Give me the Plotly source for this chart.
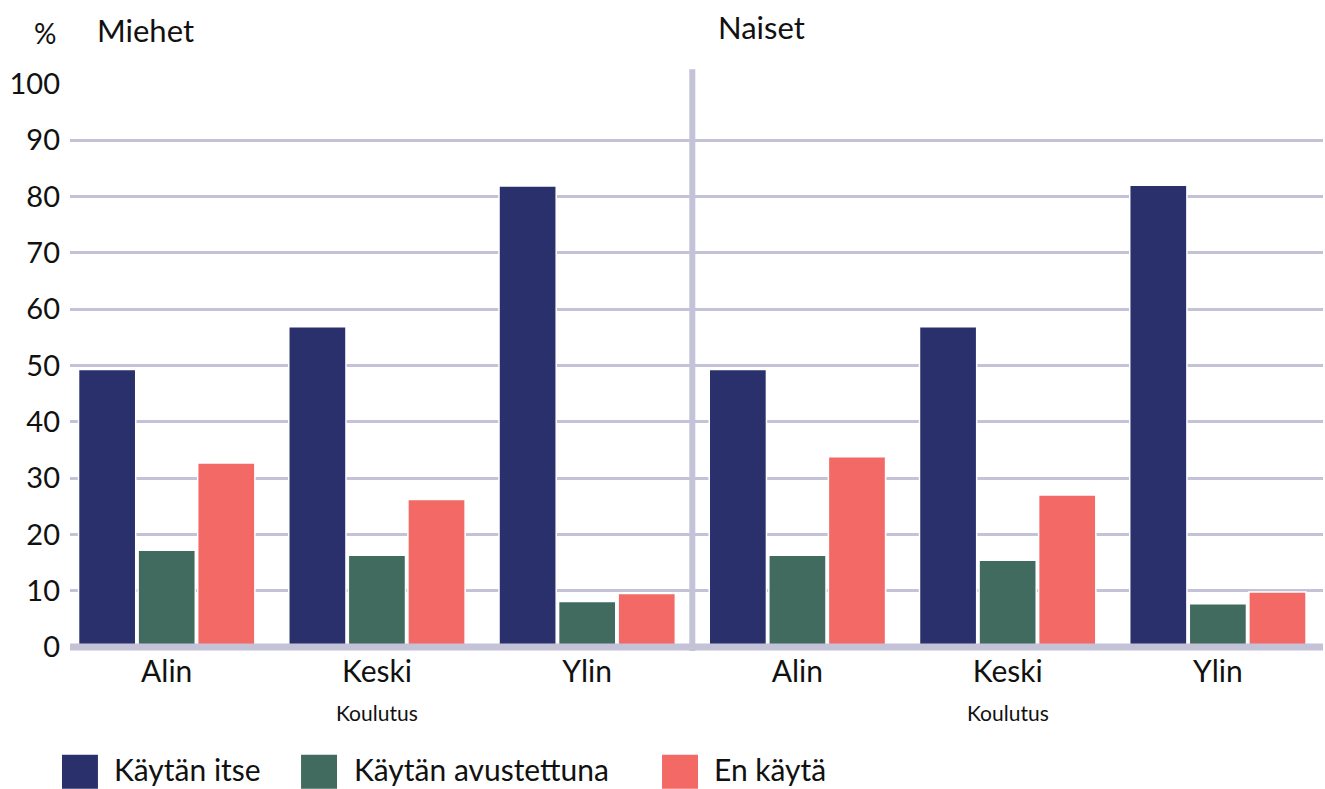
import plotly.graph_objects as go

groups = ["Alin", "Keski", "Ylin", "Alin", "Keski", "Ylin"]
panels = ["Miehet", "Naiset"]
series_names = ["Käytän itse", "Käytän avustettuna", "En käytä"]
colors = ["#29306b", "#416b5f", "#f26965"]

kaytan_itse = [49.3, 56.9, 81.9, 49.3, 56.9, 82.0]
kaytan_avustettuna = [17.2, 16.3, 8.1, 16.3, 15.4, 7.7]
en_kayta = [32.7, 26.2, 9.5, 33.8, 27.0, 9.8]
yticks = [0, 10, 20, 30, 40, 50, 60, 70, 80, 90, 100]

values = [kaytan_itse, kaytan_avustettuna, en_kayta]
xpos = list(range(len(groups)))
FONT = "Lato"
GRID = "#c4c2d6"

fig = go.Figure()
for name, vals, col in zip(series_names, values, colors):
    fig.add_trace(go.Bar(x=xpos, y=vals, name=name, marker=dict(color=col, line=dict(color="white", width=1.5)),
                         showlegend=False))

fig.update_layout(
    width=1325, height=789,
    margin=dict(l=70, r=2, t=84, b=138),
    paper_bgcolor="white", plot_bgcolor="white",
    barmode="group", bargap=0.15, bargroupgap=0.04,
    font=dict(family=FONT, color="#111111"),
)
fig.update_xaxes(range=[-0.46, 5.5], tickvals=xpos, ticktext=groups, showgrid=False, zeroline=False,
                 tickfont=dict(size=30), ticks="", ticklabelstandoff=0)
fig.update_yaxes(range=[-0.7, 100], tickvals=yticks, showgrid=True, gridcolor=GRID, gridwidth=2.5,
                 zeroline=False, tickfont=dict(size=29), ticks="", ticklabelstandoff=9)

# bottom axis band
fig.add_shape(type="line", xref="paper", yref="y", x0=0, x1=1, y0=0, y1=0,
              line=dict(color=GRID, width=7), layer="above")
# separator between panels
fig.add_shape(type="line", xref="x", yref="paper", x0=2.5, x1=2.5, y0=0.0, y1=1.026,
              line=dict(color=GRID, width=6), layer="above")

# panel titles
fig.add_annotation(text="%", xref="paper", yref="paper", x=0.0, y=1.09, xanchor="right", yanchor="middle",
                   xshift=-12, showarrow=False, font=dict(size=28))
fig.add_annotation(text=panels[0], xref="x", yref="paper", x=-0.34, y=1.095, xanchor="left", yanchor="middle",
                   showarrow=False, font=dict(size=31))
fig.add_annotation(text=panels[1], xref="x", yref="paper", x=2.615, y=1.1, xanchor="left", yanchor="middle",
                   showarrow=False, font=dict(size=31))
for xc in [1, 4]:
    fig.add_annotation(text="Koulutus", xref="x", yref="paper", x=xc, y=-0.108, xanchor="center", yanchor="middle",
                       showarrow=False, font=dict(size=21))

# legend
leg_box_x = [-0.0064, 0.1844, 0.4725]
leg_text_x = [0.0335, 0.2251, 0.5124]
for name, col, bx, tx in zip(series_names, colors, leg_box_x, leg_text_x):
    fig.add_shape(type="rect", xref="paper", yref="paper", x0=bx, x1=bx + 0.0287, y0=-0.183, y1=-0.243,
                  fillcolor=col, line=dict(width=0))
    fig.add_annotation(text=name, xref="paper", yref="paper", x=tx, y=-0.208, xanchor="left",
                       yanchor="middle", showarrow=False, font=dict(size=30))

fig.write_html("out.html")
